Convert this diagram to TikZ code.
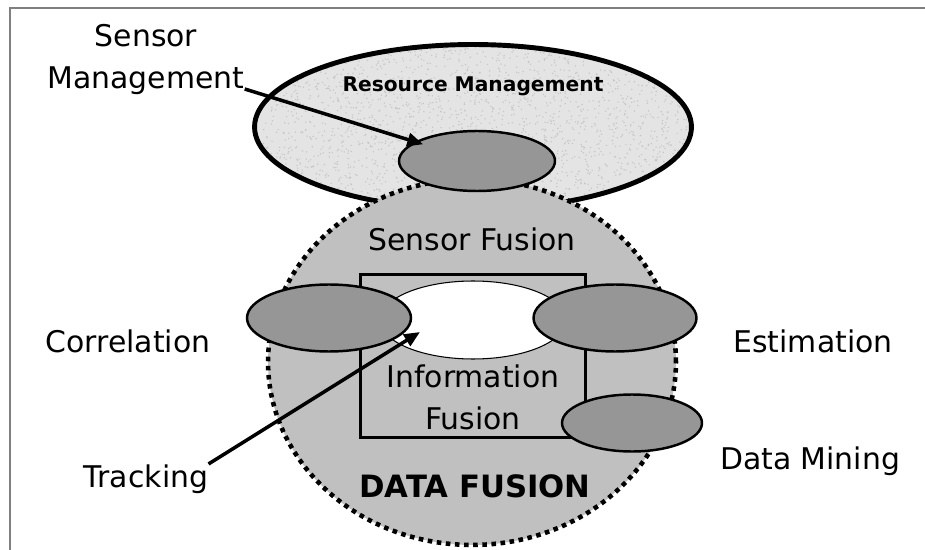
\documentclass[tikz,border=0pt]{standalone}
\usepackage{fontspec}
\setmainfont{DejaVu Sans}
\usetikzlibrary{shapes.geometric,arrows.meta}
\definecolor{fusiongray}{HTML}{C0C0C0}
\definecolor{blobgray}{HTML}{969696}
\definecolor{rmgray}{HTML}{E4E4E4}

\begin{document}
\begin{tikzpicture}[x=0.02cm, y=-0.02cm,
    blob/.style={ellipse, draw=black, line width=1.4pt, fill=blobgray, inner sep=0pt},
    txt/.style={anchor=base, inner sep=0pt, font=\fontsize{17}{20}\selectfont},
    arr/.style={-{Triangle[length=9pt,width=7.5pt]}, line width=2pt}]
\useasboundingbox (0,0) rectangle (925,550);
\pgfmathsetseed{7}

% frame
\draw[gray, line width=1.2pt] (10,550) -- (10,8) -- (925,8);

% resource management, speckled
\node[ellipse, draw=black, line width=2.8pt, fill=rmgray, inner sep=0pt,
      minimum width=8.74cm, minimum height=3.3cm,
      path picture={\foreach \i in {1,...,2500}
        {\fill[gray!45] ([shift={(rand*221,rand*84)}]path picture bounding box.center) circle (0.45pt);}}]
      (rm) at (473,127) {};

% data fusion
\node[ellipse, fill=fusiongray, draw=black, line width=2.6pt, dash pattern=on 2.6pt off 2.6pt,
      inner sep=0pt, minimum width=8.16cm, minimum height=7.32cm] (df) at (472,362) {};

\node[blob, minimum width=3.12cm, minimum height=1.2cm] (smgmt) at (477,161) {};

% information fusion box
\node[draw=black, line width=1.7pt, inner sep=0pt, minimum width=4.5cm, minimum height=3.26cm] (info) at (473,356) {};
\node[ellipse, draw=black, line width=0.6pt, fill=white, inner sep=0pt,
      minimum width=3.72cm, minimum height=1.56cm] (core) at (473,320) {};

\node[blob, minimum width=3.28cm, minimum height=1.34cm] (corr) at (329,318) {};
\node[blob, minimum width=3.26cm, minimum height=1.34cm] (est) at (615,318) {};
\node[blob, minimum width=2.8cm, minimum height=1.14cm] (dm) at (632,423) {};

% labels
\node[txt] (sensor) at (146,47) {Sensor};
\node[txt] (mgmt) at (146,89) {Management};
\node[anchor=base, inner sep=0pt, font=\bfseries\fontsize{11.5}{14}\selectfont] (rmlabel) at (473,92) {Resource Management};
\node[txt] (sflabel) at (472,251) {Sensor Fusion};
\node[txt] (corrlabel) at (128,352) {Correlation};
\node[txt] (estlabel) at (813,352) {Estimation};
\node[txt] (infolabel) at (473,387) {Information};
\node[txt] (fusionlabel) at (473,429) {Fusion};
\node[txt, font=\bfseries\fontsize{17.5}{20}\selectfont] (dflabel) at (475,497) {DATA FUSION};
\node[txt] (dmlabel) at (810,469) {Data Mining};
\node[txt] (track) at (146,487) {Tracking};

% arrows
\coordinate (tracktip) at (420,332);
\draw[arr] (track.north east) -- (tracktip);
\draw[arr, shorten >=-5pt] (mgmt.base east) -- (smgmt);
\end{tikzpicture}
\end{document}
